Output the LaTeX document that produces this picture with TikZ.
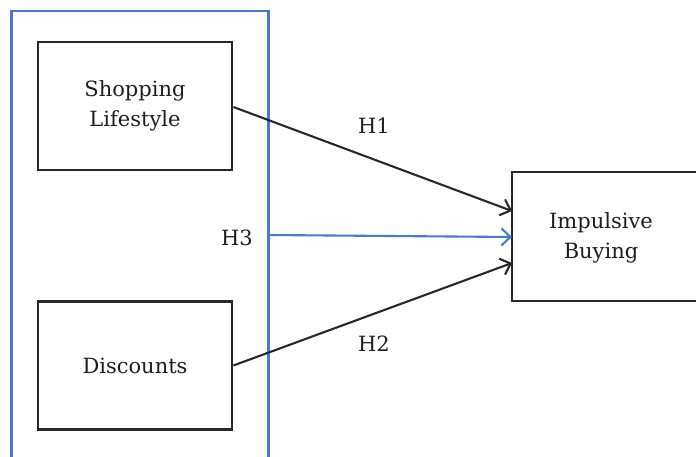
\documentclass[tikz,border=0pt]{standalone}
\usepackage{fontspec}
\setmainfont{DejaVu Serif}
\usetikzlibrary{arrows.meta}
\definecolor{bluel}{RGB}{70,122,214}
\definecolor{boxc}{RGB}{40,40,40}
\definecolor{txt}{RGB}{30,30,30}
\begin{document}
\begin{tikzpicture}[x=1pt,y=-1pt,
  box/.style={draw=boxc,line width=2.8pt,minimum width=194pt,minimum height=128pt,inner sep=0pt,align=center,font=\fontsize{21}{30}\selectfont,text=txt},
  lbl/.style={font=\fontsize{21}{24}\selectfont,text=txt,inner sep=0pt},
  arr/.style={line width=2.1pt,-{Straight Barb[length=9pt,width=17pt,line width=2.1pt]}}]
\useasboundingbox (0,0) rectangle (696,457);
\begin{scope}
\clip (0,0) rectangle (696,457);
\draw[bluel,line width=2.2pt] (11.5,470) -- (11.5,11) -- (268.5,11) -- (268.5,470);
\node[box,minimum width=200pt,minimum height=129pt] (ib) at (612,236.5) {};
\end{scope}
\node[box] (sl) at (135,106) {Shopping\\Lifestyle};
\node[box] (dc) at (135,365.5) {Discounts};
\node[lbl,align=center,font=\fontsize{21}{30}\selectfont] (ibt) at (601,238) {Impulsive\\Buying};
\coordinate (h3s) at (268.5,235);
\coordinate (t1) at (512,211);
\coordinate (t3) at (512,237);
\coordinate (t2) at (512,263);
\draw[arr,boxc] (sl.east) ++(0,1) -- (t1);
\draw[arr,boxc] (dc.east) -- (t2);
\draw[arr,bluel] (h3s) -- (t3);
\node[lbl] (h1) at (374,126) {H1};
\node[lbl] (h2) at (374,344) {H2};
\node[lbl] (h3) at (237,238) {H3};
\end{tikzpicture}
\end{document}
